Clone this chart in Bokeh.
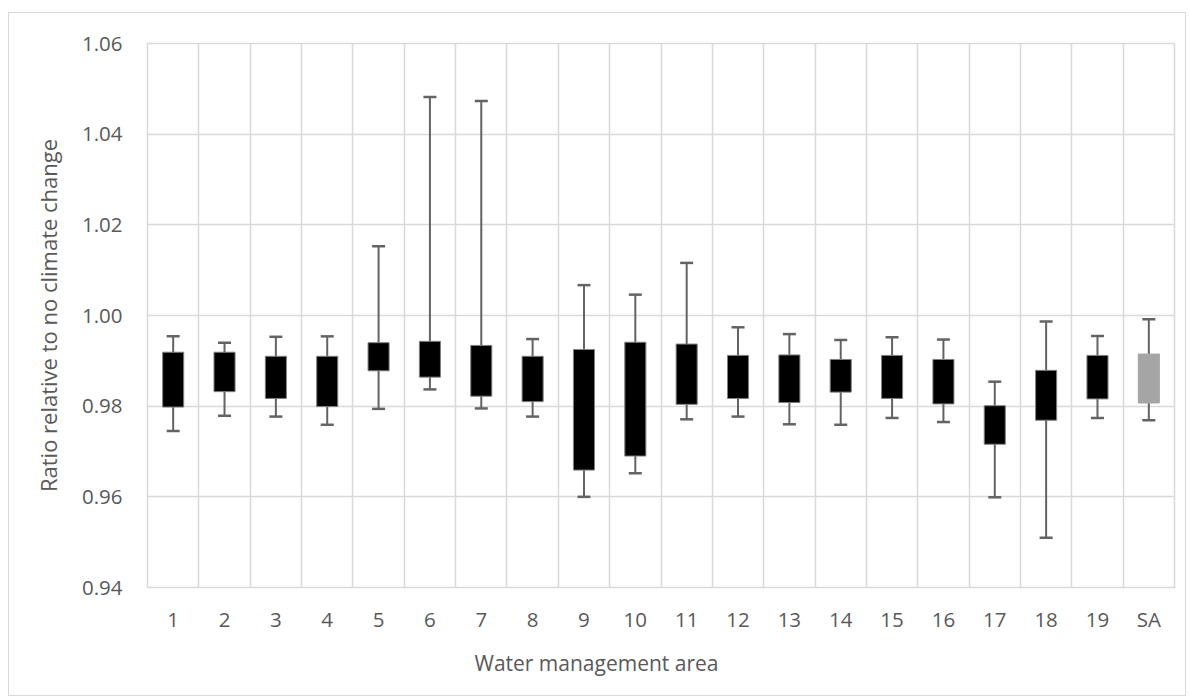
import numpy as np
from bokeh.plotting import figure
from bokeh.models import (ColumnDataSource, FixedTicker, NumeralTickFormatter,
                          Whisker, TeeHead, Title, Range1d)
from bokeh.embed import file_html
from bokeh.resources import INLINE

# ---- data ----
areas = ["1", "2", "3", "4", "5", "6", "7", "8", "9", "10",
         "11", "12", "13", "14", "15", "16", "17", "18", "19", "SA"]
lower = [0.9745, 0.9779, 0.9777, 0.9759, 0.9794, 0.9837, 0.9795, 0.9777, 0.9600, 0.9652,
         0.9771, 0.9777, 0.9760, 0.9759, 0.9774, 0.9765, 0.9599, 0.9510, 0.9774, 0.9769]
q1 = [0.9798, 0.9832, 0.9817, 0.9799, 0.9878, 0.9864, 0.9822, 0.9810, 0.9659, 0.9690,
      0.9804, 0.9817, 0.9808, 0.9831, 0.9817, 0.9805, 0.9716, 0.9769, 0.9816, 0.9807]
median = [0.9849, 0.9871, 0.9839, 0.9824, 0.9894, 0.9894, 0.9861, 0.9825, 0.9720, 0.9735,
          0.9876, 0.9851, 0.9831, 0.9874, 0.9832, 0.9821, 0.9767, 0.9804, 0.9835, 0.9850]
q3 = [0.9919, 0.9919, 0.9910, 0.9910, 0.9940, 0.9943, 0.9934, 0.9910, 0.9925, 0.9941,
      0.9937, 0.9912, 0.9913, 0.9903, 0.9912, 0.9903, 0.9801, 0.9879, 0.9912, 0.9915]
upper = [0.9954, 0.9940, 0.9953, 0.9954, 1.0153, 1.0482, 1.0473, 0.9948, 1.0067, 1.0046,
         1.0116, 0.9974, 0.9959, 0.9946, 0.9952, 0.9947, 0.9854, 0.9987, 0.9955, 0.9992]
y_ticks = [0.94, 0.96, 0.98, 1.00, 1.02, 1.04, 1.06]
x_title = "Water management area"
y_title = "Ratio relative to no climate change"

# ---- styles ----
TEXT = "#595959"
GRID = "#D9D9D9"
WHISK = "#636363"
FONT = "Open Sans"

n = len(areas)
xpos = np.arange(n) + 0.5
fill = ["#000000"] * (n - 1) + ["#A5A5A5"]
edge = ["#7F7F7F"] * (n - 1) + ["#A5A5A5"]
med_col = ["#595959"] * (n - 1) + ["#A5A5A5"]

src = ColumnDataSource(dict(x=xpos, lower=lower, q1=q1, median=median, q3=q3,
                            upper=upper, fill=fill, edge=edge, med=med_col))

p = figure(width=1178, height=684, output_backend="svg", toolbar_location=None,
           x_range=Range1d(0, n), y_range=Range1d(y_ticks[0], y_ticks[-1]),
           min_border_left=138, min_border_right=13, min_border_top=30,
           min_border_bottom=110, background_fill_color="white",
           border_fill_color="white", outline_line_color=GRID,
           outline_line_width=1.5)
p.margin = (12, 0, 0, 8)
p.styles = {"border": "1px solid #D9D9D9"}

# grids
p.xgrid.ticker = FixedTicker(ticks=list(range(n + 1)))
p.xgrid.grid_line_color = GRID
p.xgrid.grid_line_width = 1.5
p.ygrid.ticker = FixedTicker(ticks=y_ticks)
p.ygrid.grid_line_color = GRID
p.ygrid.grid_line_width = 1.5

# whiskers
lo_w = Whisker(source=src, base="x", lower="lower", upper="q1", dimension="height",
               line_color=WHISK, line_width=2, upper_head=None,
               lower_head=TeeHead(size=13, line_color=WHISK, line_width=2.5))
up_w = Whisker(source=src, base="x", lower="q3", upper="upper", dimension="height",
               line_color=WHISK, line_width=2, lower_head=None,
               upper_head=TeeHead(size=13, line_color=WHISK, line_width=2.5))
p.add_layout(lo_w)
p.add_layout(up_w)

# boxes
p.vbar(x="x", width=0.41, bottom="q1", top="q3", source=src,
       fill_color="fill", line_color="edge", line_width=1)
p.rect(x="x", y="median", width=0.41, height=0, source=src,
       fill_color=None, line_color="med", line_width=1)

# axes
p.xaxis.ticker = FixedTicker(ticks=list(xpos))
p.xaxis.major_label_overrides = {float(x): a for x, a in zip(xpos, areas)}
p.yaxis.ticker = FixedTicker(ticks=y_ticks)
p.yaxis.formatter = NumeralTickFormatter(format="0.00")
for ax in (p.xaxis[0], p.yaxis[0]):
    ax.axis_line_color = None
    ax.major_tick_line_color = None
    ax.minor_tick_line_color = None
    ax.major_tick_out = 0
    ax.major_tick_in = 0
    ax.major_label_text_font = FONT
    ax.major_label_text_font_size = "20.5px"
    ax.major_label_text_color = TEXT
p.xaxis.major_label_standoff = 17
p.yaxis.major_label_standoff = 25
p.yaxis.axis_label = y_title
p.yaxis.axis_label_text_font = FONT
p.yaxis.axis_label_text_font_size = "22px"
p.yaxis.axis_label_text_font_style = "normal"
p.yaxis.axis_label_text_color = TEXT
p.yaxis.axis_label_standoff = 16

# x-axis title centred on the whole chart (as in the reference)
p.add_layout(Title(text=x_title, align="left", offset=327, text_font=FONT,
                   text_font_size="21px", text_font_style="normal",
                   text_color=TEXT, standoff=22), "below")

open("out.html", "w").write(file_html(p, INLINE))
